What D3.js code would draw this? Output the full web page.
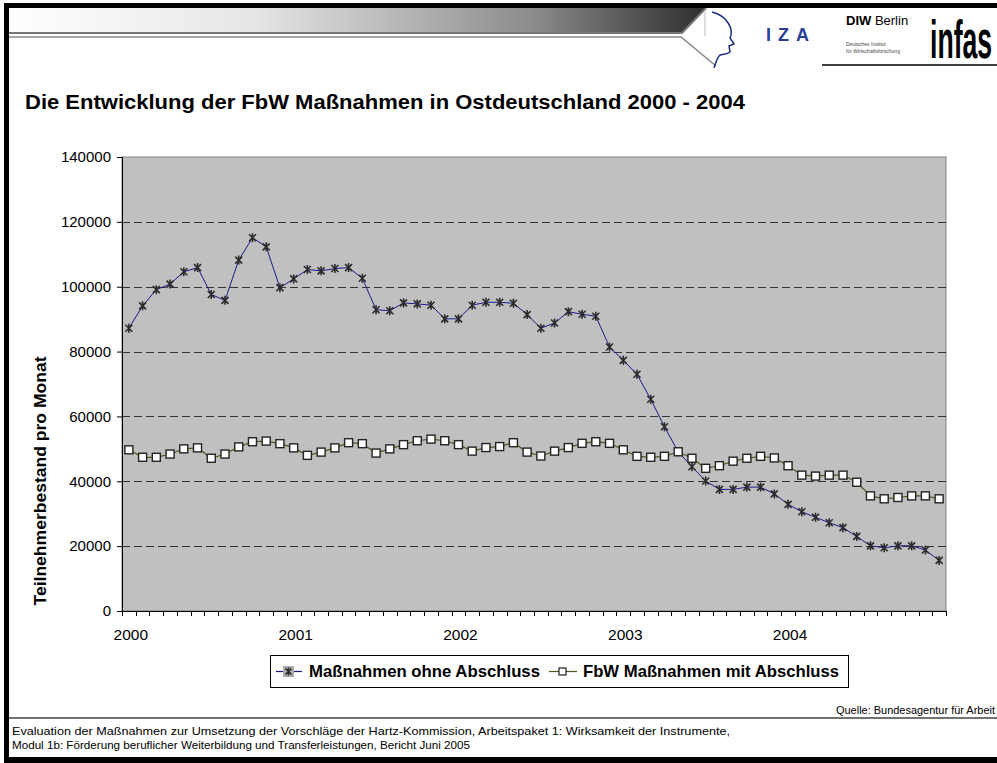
<!DOCTYPE html>
<html>
<head>
<meta charset="utf-8">
<script src="https://cdn.jsdelivr.net/npm/d3@7"></script>
<style>
  body { margin: 0; background: #fff; }
  svg { display: block; font-family: "Liberation Sans", Arial, sans-serif; }
</style>
</head>
<body>
<div id="chart"></div>
<script>
// categories: 60 months, a label for each year
var years = ["2000", "2001", "2002", "2003", "2004"];
var months = [];
years.forEach(function(y) { for (var m = 1; m <= 12; m++) months.push(y + "-" + (m < 10 ? "0" + m : m)); });

var yTicks = [0, 20000, 40000, 60000, 80000, 100000, 120000, 140000];

var ohneAbschluss = [
  87200, 94100, 99100, 100800, 104600, 105900, 97600, 95800, 108200, 115100, 112300, 99700,
  102400, 105300, 104900, 105600, 105900, 102600, 92900, 92600, 95000, 94700, 94300, 90100,
  90100, 94300, 95200, 95200, 94900, 91400, 87200, 88800, 92300, 91500, 90900, 81400,
  77300, 73000, 65300, 56800, 49100, 44500, 40100, 37500, 37500, 38200, 38200, 36100,
  32900, 30600, 28900, 27200, 25700, 23000, 20100, 19500, 20100, 20100, 18800, 15600
];
var mitAbschluss = [
  49700, 47400, 47400, 48400, 50000, 50300, 47100, 48400, 50600, 52200, 52400, 51600,
  50300, 48000, 49000, 50300, 51900, 51600, 48700, 50000, 51300, 52500, 53000, 52500,
  51300, 49300, 50400, 50700, 51900, 49000, 47800, 49300, 50400, 51700, 52200, 51700,
  49700, 47700, 47400, 47700, 49100, 47100, 44000, 44800, 46200, 47100, 47700, 47200,
  44800, 41900, 41600, 41900, 41900, 39700, 35500, 34600, 35000, 35500, 35500, 34600
];
var seriesNames = ["Maßnahmen ohne Abschluss", "FbW Maßnahmen mit Abschluss"];

var width = 997, height = 763;
var plot = {left: 122, top: 157, right: 946, bottom: 611};

var svg = d3.select("#chart").append("svg")
  .attr("width", width)
  .attr("height", height);

// ---- slide frame and header ----
var grad = svg.append("defs").append("linearGradient")
  .attr("id", "hdr").attr("x1", "0").attr("x2", "1");
grad.append("stop").attr("offset", "0%").attr("stop-color", "#ffffff");
grad.append("stop").attr("offset", "35%").attr("stop-color", "#e6e6e6");
grad.append("stop").attr("offset", "75%").attr("stop-color", "#8c8c8c");
grad.append("stop").attr("offset", "100%").attr("stop-color", "#2e2e2e");

svg.append("path")
  .attr("d", "M9,8 L706,8 L683,32 L9,32 Z")
  .style("fill", "url(#hdr)");
svg.append("path")
  .attr("d", "M9,33 L682,33 L706,8")
  .style("fill", "none").style("stroke", "#777").style("stroke-width", 2);
svg.append("path")
  .attr("d", "M9,37 L681,37 L716,66")
  .style("fill", "none").style("stroke", "#888").style("stroke-width", 1.5);
svg.append("line").attr("x1", 705).attr("x2", 705).attr("y1", 12).attr("y2", 36)
  .style("stroke", "#bbb");
svg.append("rect").attr("x", 4).attr("y", 3).attr("width", 993).attr("height", 5).style("fill", "#000");
svg.append("rect").attr("x", 4).attr("y", 3).attr("width", 5).attr("height", 760).style("fill", "#000");
svg.append("rect").attr("x", 4).attr("y", 757).attr("width", 993).attr("height", 6).style("fill", "#000");
svg.append("line").attr("x1", 822).attr("x2", 997).attr("y1", 65).attr("y2", 65)
  .style("stroke", "#000").style("stroke-width", 1.5);

// IZA logo: head profile and letters
svg.append("path")
  .attr("d", "M712,12 C728,16 734,30 730,38 L734,44 L729,46 L730,52 C726,55 722,54 720,55 C717,58 716,62 714,68")
  .style("fill", "none").style("stroke", "#1c2f86").style("stroke-width", 1.5);
svg.append("text").attr("x", 766).attr("y", 41)
  .style("font-size", "18px").style("font-weight", "bold").style("fill", "#2a3d97")
  .style("letter-spacing", "7px").text("IZA");

// DIW Berlin
var diw = svg.append("text").attr("x", 846).attr("y", 25).style("font-size", "13px");
diw.append("tspan").style("font-weight", "bold").text("DIW");
diw.append("tspan").text(" Berlin");
svg.append("text").attr("x", 846).attr("y", 46).style("font-size", "5px").style("fill", "#444").text("Deutsches Institut");
svg.append("text").attr("x", 846).attr("y", 53).style("font-size", "5px").style("fill", "#444").text("für Wirtschaftsforschung");

// infas
svg.append("text")
  .attr("transform", "translate(930,58) scale(0.95,1.9)")
  .style("font-size", "28px").style("font-weight", "bold")
  .text("infas");

// title
svg.append("text")
  .attr("x", 25).attr("y", 109)
  .attr("textLength", 720).attr("lengthAdjust", "spacingAndGlyphs")
  .style("font-size", "20px").style("font-weight", "bold")
  .text("Die Entwicklung der FbW Maßnahmen in Ostdeutschland 2000 - 2004");

// ---- chart ----
var x = d3.scaleBand().domain(months).range([plot.left, plot.right]).padding(0);
var y = d3.scaleLinear().domain([0, 140000]).range([plot.bottom, plot.top]);

svg.append("rect")
  .attr("x", plot.left).attr("y", plot.top)
  .attr("width", plot.right - plot.left).attr("height", plot.bottom - plot.top)
  .style("fill", "#c0c0c0")
  .style("stroke", "#808080").style("stroke-width", 1);

// dashed gridlines
svg.append("g").selectAll("line")
  .data(yTicks.filter(function(d) { return d > 0 && d < 140000; }))
  .enter().append("line")
  .attr("x1", plot.left).attr("x2", plot.right)
  .attr("y1", function(d) { return Math.round(y(d)) + 0.5; })
  .attr("y2", function(d) { return Math.round(y(d)) + 0.5; })
  .style("stroke", "#333").style("stroke-dasharray", "8,4");

// y axis
var yAxis = svg.append("g")
  .attr("transform", "translate(" + plot.left + ",0)")
  .call(d3.axisLeft(y).tickValues(yTicks).tickSize(5).tickPadding(6).tickFormat(d3.format("d")));
yAxis.selectAll("text").style("font-size", "15px").style("fill", "#000")
  .style("font-family", "'Liberation Sans', Arial, sans-serif");
yAxis.selectAll("line, path").style("stroke", "#000");

// x axis: tick marks at month boundaries, labels at the first month of each year
var bounds = months.map(function(m) { return x(m); }).concat([plot.right]);
svg.append("g").selectAll("line")
  .data(bounds).enter().append("line")
  .attr("x1", function(d) { return Math.round(d) + 0.5; })
  .attr("x2", function(d) { return Math.round(d) + 0.5; })
  .attr("y1", plot.bottom).attr("y2", plot.bottom + 5)
  .style("stroke", "#000");
svg.append("line")
  .attr("x1", plot.left).attr("x2", plot.right)
  .attr("y1", plot.bottom + 0.5).attr("y2", plot.bottom + 0.5)
  .style("stroke", "#000");
svg.append("g").selectAll("text")
  .data(years).enter().append("text")
  .attr("x", function(d) { return x(d + "-01") + x.bandwidth() / 2 + 2; })
  .attr("y", 640)
  .style("font-size", "15.5px")
  .style("text-anchor", "middle")
  .text(function(d) { return d; });

// y axis title
svg.append("text")
  .attr("transform", "translate(46,481) rotate(-90)")
  .attr("textLength", 249).attr("lengthAdjust", "spacingAndGlyphs")
  .style("font-size", "17px").style("font-weight", "bold")
  .style("text-anchor", "middle")
  .text("Teilnehmerbestand pro Monat");

var line = d3.line()
  .x(function(d, i) { return x(months[i]) + x.bandwidth() / 2; })
  .y(function(d) { return y(d); });

function starMarker(sel, s) {
  sel.append("path")
    .attr("d", "M" + (-s) + "," + (-s) + "L" + s + "," + s + "M" + (-s) + "," + s + "L" + s + "," + (-s) +
               "M0," + (-s - 1) + "L0," + (s + 1))
    .style("stroke", "#2b2b2b").style("stroke-width", 1.6).style("fill", "none");
}

// series 1: navy line with star markers
svg.append("path")
  .datum(ohneAbschluss)
  .attr("d", line)
  .style("fill", "none").style("stroke", "#1a1a8c").style("stroke-width", 1);

// series 2: olive line with white square markers
svg.append("path")
  .datum(mitAbschluss)
  .attr("d", line)
  .style("fill", "none").style("stroke", "#55551f").style("stroke-width", 1.2);

svg.append("g").selectAll("g")
  .data(ohneAbschluss).enter().append("g")
  .attr("transform", function(d, i) { return "translate(" + (x(months[i]) + x.bandwidth() / 2) + "," + y(d) + ")"; })
  .call(starMarker, 3.5);

svg.append("g").selectAll("rect")
  .data(mitAbschluss).enter().append("rect")
  .attr("x", function(d, i) { return x(months[i]) + x.bandwidth() / 2 - 4; })
  .attr("y", function(d) { return y(d) - 4; })
  .attr("width", 8).attr("height", 8)
  .style("fill", "#fff").style("stroke", "#222").style("stroke-width", 1.4);

// ---- legend ----
var lg = svg.append("g");
lg.append("rect").attr("x", 270.5).attr("y", 655.5).attr("width", 578).attr("height", 32)
  .style("fill", "#fff").style("stroke", "#000");
lg.append("line").attr("x1", 276).attr("x2", 302).attr("y1", 671.5).attr("y2", 671.5)
  .style("stroke", "#1a1a8c").style("stroke-width", 1.2);
lg.append("rect").attr("x", 283).attr("y", 666).attr("width", 11).attr("height", 11).style("fill", "#aaa");
lg.append("g").attr("transform", "translate(288.5,671.5)").call(starMarker, 3);
lg.append("text").attr("x", 309).attr("y", 677)
  .attr("textLength", 231).attr("lengthAdjust", "spacingAndGlyphs")
  .style("font-size", "16.5px").style("font-weight", "bold").text(seriesNames[0]);
lg.append("line").attr("x1", 549).attr("x2", 577).attr("y1", 671.5).attr("y2", 671.5)
  .style("stroke", "#55551f").style("stroke-width", 1.2);
lg.append("rect").attr("x", 559).attr("y", 668).attr("width", 7).attr("height", 7)
  .style("fill", "#fff").style("stroke", "#222").style("stroke-width", 1.2);
lg.append("text").attr("x", 583).attr("y", 677)
  .attr("textLength", 256).attr("lengthAdjust", "spacingAndGlyphs")
  .style("font-size", "16.5px").style("font-weight", "bold").text(seriesNames[1]);

// ---- footer ----
svg.append("text")
  .attr("x", 836).attr("y", 714)
  .attr("textLength", 159).attr("lengthAdjust", "spacingAndGlyphs")
  .style("font-size", "10.5px")
  .text("Quelle: Bundesagentur für Arbeit");
svg.append("line").attr("x1", 9).attr("x2", 997).attr("y1", 718).attr("y2", 718)
  .style("stroke", "#444").style("stroke-width", 1.5);
svg.append("text")
  .attr("x", 12).attr("y", 735)
  .attr("textLength", 718).attr("lengthAdjust", "spacingAndGlyphs")
  .style("font-size", "11.5px")
  .text("Evaluation der Maßnahmen zur Umsetzung der Vorschläge der Hartz-Kommission, Arbeitspaket 1: Wirksamkeit der Instrumente,");
svg.append("text")
  .attr("x", 12).attr("y", 749)
  .attr("textLength", 458).attr("lengthAdjust", "spacingAndGlyphs")
  .style("font-size", "11.5px")
  .text("Modul 1b: Förderung beruflicher Weiterbildung und Transferleistungen, Bericht Juni 2005");
</script>
</body>
</html>
